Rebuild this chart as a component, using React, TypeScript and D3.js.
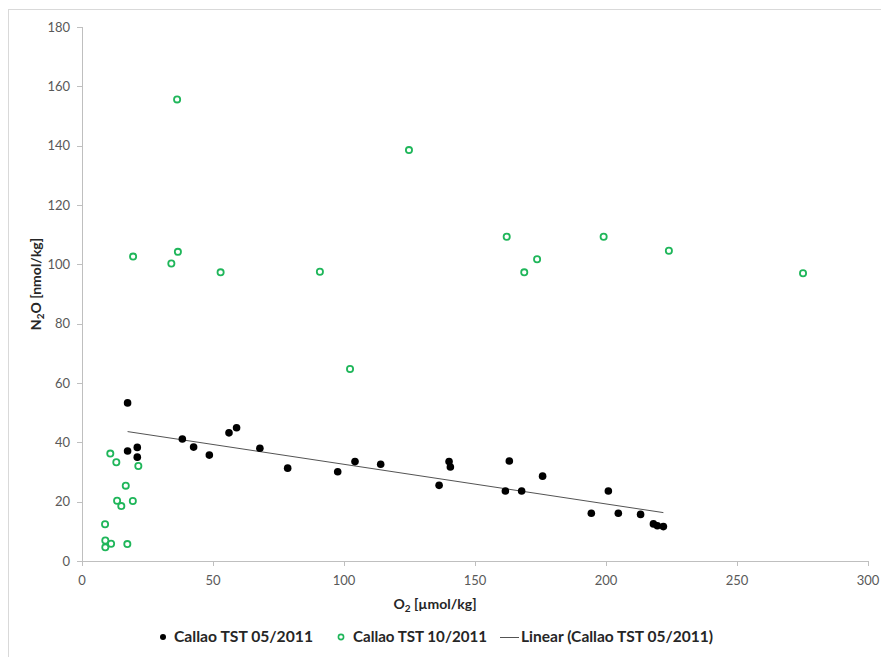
import React from "react";
import * as d3 from "d3";

const seriesMay: [number, number][] = [
  [17.4, 53.3], [17.4, 37.1], [21.1, 38.3], [21.1, 35.0], [38.3, 41.1],
  [42.6, 38.4], [48.6, 35.7], [56.1, 43.2], [59.0, 44.9], [67.9, 38.0],
  [78.5, 31.3], [97.6, 30.1], [104.2, 33.5], [114.0, 32.6], [136.3, 25.5],
  [140.1, 33.5], [140.6, 31.7], [161.6, 23.6], [163.1, 33.7], [167.8, 23.6],
  [175.8, 28.6], [194.4, 16.1], [200.9, 23.6], [204.7, 16.1], [213.2, 15.7],
  [218.1, 12.5], [219.6, 11.9], [221.9, 11.6],
];

const seriesOct: [number, number][] = [
  [10.8, 36.2], [13.1, 33.3], [21.5, 32.0], [16.7, 25.4], [13.4, 20.3],
  [15.0, 18.5], [19.4, 20.2], [8.8, 12.4], [8.9, 6.9], [8.9, 4.6],
  [11.1, 5.8], [17.3, 5.7], [36.3, 155.6], [19.5, 102.6], [36.6, 104.2],
  [34.1, 100.3], [52.9, 97.3], [90.8, 97.5], [102.3, 64.7], [124.8, 138.5],
  [162.1, 109.3], [199.1, 109.3], [224.0, 104.6], [173.7, 101.7], [168.8, 97.3],
  [275.2, 97.0],
];

const xTicks = [0, 50, 100, 150, 200, 250, 300];
const yTicks = [0, 20, 40, 60, 80, 100, 120, 140, 160, 180];
const legendLabels = ["Callao TST 05/2011", "Callao TST 10/2011", "Linear (Callao TST 05/2011)"];

const W = 881;
const H = 657;
const plot = { left: 82, right: 868, top: 27, bottom: 561 };
const GREEN = "#1fb65a";
const FONT = "Lato, 'Open Sans', sans-serif";

export default function App() {
  const x = d3.scaleLinear().domain([0, 300]).range([plot.left, plot.right]);
  const y = d3.scaleLinear().domain([0, 180]).range([plot.bottom, plot.top]);

  // least-squares linear trend for 05/2011
  const mx = d3.mean(seriesMay, (d) => d[0]) as number;
  const my = d3.mean(seriesMay, (d) => d[1]) as number;
  const sxy = d3.sum(seriesMay, (d) => (d[0] - mx) * (d[1] - my));
  const sxx = d3.sum(seriesMay, (d) => (d[0] - mx) ** 2);
  const slope = sxy / sxx;
  const icpt = my - slope * mx;
  const [x0, x1] = d3.extent(seriesMay, (d) => d[0]) as [number, number];
  const trend = d3.line<number>().x((v) => x(v)).y((v) => y(icpt + slope * v))([x0, x1]) as string;

  const axisColor = "#bfbfbf";
  const tickText = "#595959";

  return (
    <>
      <style>{`body{margin:0;background:#fff}`}</style>
      <svg width={W} height={H} style={{ display: "block", fontFamily: FONT }}>
        <rect x={8.5} y={9.5} width={W} height={H} fill="#fff" stroke="#d9d9d9" strokeWidth={1} />

        {/* axes */}
        <line x1={plot.left + 0.5} x2={plot.left + 0.5} y1={plot.top} y2={plot.bottom} stroke={axisColor} />
        <line x1={plot.left} x2={plot.right} y1={plot.bottom + 0.5} y2={plot.bottom + 0.5} stroke={axisColor} />
        {yTicks.map((t) => (
          <g key={"y" + t}>
            <line x1={plot.left - 5} x2={plot.left} y1={Math.round(y(t)) + 0.5} y2={Math.round(y(t)) + 0.5} stroke={axisColor} />
            <text x={plot.left - 12} y={y(t)} dy="0.35em" textAnchor="end" fontSize={13} fill={tickText}>
              {t}
            </text>
          </g>
        ))}
        {xTicks.map((t) => (
          <g key={"x" + t}>
            <line x1={Math.round(x(t)) + 0.5} x2={Math.round(x(t)) + 0.5} y1={plot.bottom} y2={plot.bottom + 5} stroke={axisColor} />
            <text x={x(t)} y={plot.bottom + 24} textAnchor="middle" fontSize={13} fill={tickText}>
              {t}
            </text>
          </g>
        ))}

        {/* axis titles */}
        <text x={435} y={609} textAnchor="middle" fontSize={14} fontWeight={700} fill="#262626">
          O<tspan fontSize={10} dy={3}>2</tspan>
          <tspan dy={-3}> [µmol/kg]</tspan>
        </text>
        <text transform="translate(41,284) rotate(-90)" textAnchor="middle" fontSize={14} fontWeight={700} fill="#262626">
          N<tspan fontSize={10} dy={3}>2</tspan>
          <tspan dy={-3}>O [nmol/kg]</tspan>
        </text>

        {/* trend */}
        <path d={trend} stroke="#404040" strokeWidth={0.9} fill="none" />

        {/* series */}
        {seriesMay.map((d, i) => (
          <circle key={"m" + i} cx={x(d[0])} cy={y(d[1])} r={3.8} fill="#000" />
        ))}
        {seriesOct.map((d, i) => (
          <circle key={"o" + i} cx={x(d[0])} cy={y(d[1])} r={3.1} fill="none" stroke={GREEN} strokeWidth={1.8} />
        ))}

        {/* legend */}
        <g fontSize={15} fontWeight={700} fill="#262626">
          <circle cx={163} cy={637} r={3} fill="#000" />
          <text x={174} y={642} textLength={139} lengthAdjust="spacingAndGlyphs">{legendLabels[0]}</text>
          <circle cx={341} cy={637} r={2.6} fill="none" stroke={GREEN} strokeWidth={1.6} />
          <text x={353} y={642} textLength={134} lengthAdjust="spacingAndGlyphs">{legendLabels[1]}</text>
          <line x1={500} x2={519} y1={637.5} y2={637.5} stroke="#404040" strokeWidth={0.9} />
          <text x={521} y={642} textLength={192} lengthAdjust="spacingAndGlyphs">{legendLabels[2]}</text>
        </g>
      </svg>
    </>
  );
}
